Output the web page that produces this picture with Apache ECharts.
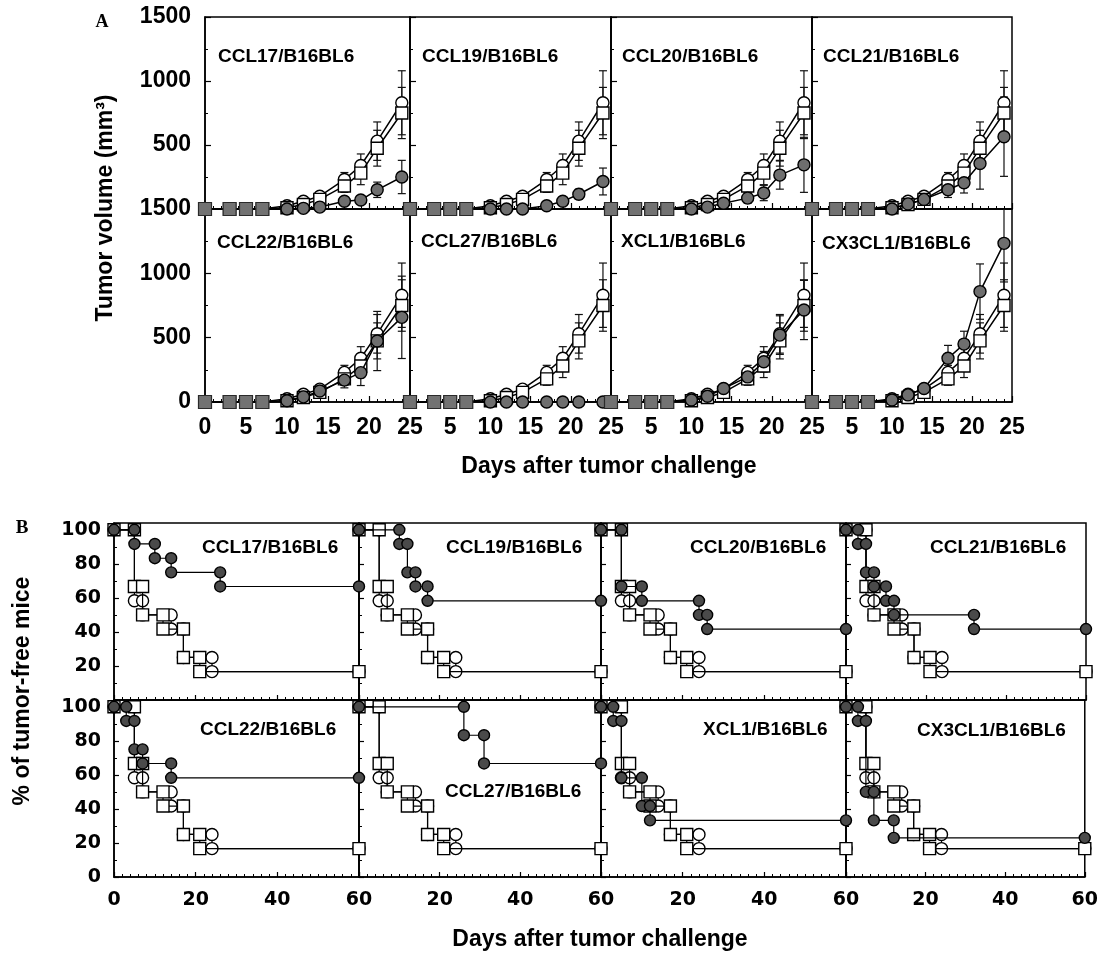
<!DOCTYPE html>
<html><head><meta charset="utf-8">
<script src="https://cdn.jsdelivr.net/npm/echarts@6/dist/echarts.min.js"></script>
<style>html,body{margin:0;padding:0;background:#fff}#c{width:1101px;height:953px}</style>
</head><body><div id="c"></div><script>
// ---------- DATA ----------
const panelNames = ['CCL17/B16BL6','CCL19/B16BL6','CCL20/B16BL6','CCL21/B16BL6','CCL22/B16BL6','CCL27/B16BL6','XCL1/B16BL6','CX3CL1/B16BL6'];

// Panel A: tumor volume (mm3)
const tvXTicks = [0,5,10,15,20,25];
const tvYTicks = [0,500,1000,1500];
const tvDays = [0,3,5,7,10,12,14,17,19,21,24];
const tvGrayDays = [0,3,5,7];
const tvGrayVals = [0,0,0,0];
const tvOpenCircle    = [0,0,0,0,25,60,100,230,340,530,830];
const tvOpenCircleErr = [0,0,0,0,10,15,20,55,90,150,250];
const tvOpenSquare    = [0,0,0,0,10,35,75,180,280,475,750];
const tvOpenSquareErr = [0,0,0,0,8,12,18,50,90,140,200];
const tvCCL17  = [0,0,0,0,0,5,15,60,70,150,250];
const tvCCL17Err  = [0,0,0,0,0,5,10,20,30,60,130];
const tvCCL19  = [0,0,0,0,0,0,0,25,60,115,215];
const tvCCL19Err  = [0,0,0,0,0,0,0,10,20,40,105];
const tvCCL20  = [0,0,0,0,0,15,45,85,125,265,345];
const tvCCL20Err  = [0,0,0,0,0,10,20,40,60,110,215];
const tvCCL21  = [0,0,0,0,0,40,75,150,205,355,565];
const tvCCL21Err  = [0,0,0,0,0,15,30,60,80,200,310];
const tvCCL22  = [0,0,0,0,10,40,85,170,228,474,658];
const tvCCL22Err  = [0,0,0,0,5,10,20,60,100,230,320];
const tvCCL27  = [0,0,0,0,0,0,0,0,0,0,0];
const tvCCL27Err  = [0,0,0,0,0,0,0,0,0,0,0];
const tvXCL1   = [0,0,0,0,15,45,105,195,313,520,715];
const tvXCL1Err   = [0,0,0,0,5,15,25,50,80,150,230];
const tvCX3CL1 = [0,0,0,0,15,55,105,340,450,858,1233];
const tvCX3CL1Err = [0,0,0,0,5,15,30,100,100,215,300];

// Panel B: % tumor-free mice  [day, %]
const kmXTicks = [0,20,40,60];
const kmYTicks = [0,20,40,60,80,100];
const kmOpenSquare = [[0,100],[5,100],[5,66.7],[7,66.7],[7,50],[12,50],[12,41.7],[17,41.7],[17,25],[21,25],[21,16.7],[60,16.7]];
const kmOpenCircle = [[0,100],[5,100],[5,58.3],[7,58.3],[7,50],[14,50],[14,41.7],[17,41.7],[17,25],[24,25],[24,16.7],[60,16.7]];
const kmCCL17  = [[0,100],[5,100],[5,91.7],[10,91.7],[10,83.3],[14,83.3],[14,75],[26,75],[26,66.7],[60,66.7]];
const kmCCL19  = [[0,100],[10,100],[10,91.7],[12,91.7],[12,75],[14,75],[14,66.7],[17,66.7],[17,58.3],[60,58.3]];
const kmCCL20  = [[0,100],[5,100],[5,66.7],[10,66.7],[10,58.3],[24,58.3],[24,50],[26,50],[26,41.7],[60,41.7]];
const kmCCL21  = [[0,100],[3,100],[3,91.7],[5,91.7],[5,75],[7,75],[7,66.7],[10,66.7],[10,58.3],[12,58.3],[12,50],[32,50],[32,41.7],[60,41.7]];
const kmCCL22  = [[0,100],[3,100],[3,91.7],[5,91.7],[5,75],[7,75],[7,66.7],[14,66.7],[14,58.3],[60,58.3]];
const kmCCL27  = [[0,100],[26,100],[26,83.3],[31,83.3],[31,66.7],[60,66.7]];
const kmXCL1   = [[0,100],[3,100],[3,91.7],[5,91.7],[5,58.3],[10,58.3],[10,41.7],[12,41.7],[12,33.3],[60,33.3]];
const kmCX3CL1 = [[0,100],[3,100],[3,91.7],[5,91.7],[5,50],[7,50],[7,33.3],[12,33.3],[12,23],[60,23]];

// ---------- BUILD ----------
const tvPanels = [tvCCL17,tvCCL19,tvCCL20,tvCCL21,tvCCL22,tvCCL27,tvXCL1,tvCX3CL1];
const tvPanelErrs = [tvCCL17Err,tvCCL19Err,tvCCL20Err,tvCCL21Err,tvCCL22Err,tvCCL27Err,tvXCL1Err,tvCX3CL1Err];
const kmPanels = [kmCCL17,kmCCL19,kmCCL20,kmCCL21,kmCCL22,kmCCL27,kmXCL1,kmCX3CL1];

const FONT = '"Liberation Sans", Arial, Helvetica, sans-serif';
const FONTB = '"DejaVu Sans", Verdana, sans-serif';
const grids=[], xAxes=[], yAxes=[], series=[], graphic=[];

function errSeries(gi, days, vals, errs){
  return {type:'custom', xAxisIndex:gi, yAxisIndex:gi, z:1, silent:true, clip:true,
    dimensions:['x','y','e'], encode:{x:0,y:1},
    data: days.map((d,i)=>[d, vals[i], errs[i]]),
    renderItem(params, api){
      const x=api.value(0), v=api.value(1), e=api.value(2);
      if(!e) return null;
      const t=api.coord([x,v+e]), b=api.coord([x,Math.max(0,v-e)]);
      const hw=4, st={stroke:'#111', lineWidth:1.2};
      return {type:'group', children:[
        {type:'line', shape:{x1:t[0],y1:t[1],x2:b[0],y2:b[1]}, style:st},
        {type:'line', shape:{x1:t[0]-hw,y1:t[1],x2:t[0]+hw,y2:t[1]}, style:st},
        {type:'line', shape:{x1:b[0]-hw,y1:b[1],x2:b[0]+hw,y2:b[1]}, style:st}
      ]};
    }};
}
function lineSeries(gi, data, symbol, fill, z, size, lw){
  return {type:'line', xAxisIndex:gi, yAxisIndex:gi, z, data, symbol, symbolSize:size,
    showAllSymbol:true, silent:true, clip:true,
    lineStyle:{color:'#000', width:lw},
    itemStyle:{color:fill, borderColor:'#000', borderWidth:1.4, opacity:1}};
}
function axisCommon(){
  return {axisLine:{show:true, onZero:false, lineStyle:{color:'#000', width:1.5}},
    splitLine:{show:false}, minorSplitLine:{show:false}};
}

// Panel A
const colLeftA=[205,410,611,812], colWA=[205,201,201,200], rowTopA=[17,209], rowHA=[192,193];
const titlePosA=[[218,57],[422,57],[622,57],[823,57],[217,243],[421,242],[621,242],[822,244]];
for(let k=0;k<8;k++){
  const r=Math.floor(k/4), c=k%4, gi=grids.length;
  grids.push({left:colLeftA[c], top:rowTopA[r], width:colWA[c], height:rowHA[r], show:true,
    borderColor:'#000', borderWidth:1.5, backgroundColor:'transparent', containLabel:false});
  xAxes.push(Object.assign(axisCommon(), {gridIndex:gi, type:'value', min:tvXTicks[0], max:tvXTicks[tvXTicks.length-1], interval:5,
    axisTick:{show:true, inside:true, length:6, lineStyle:{color:'#000', width:1.2}},
    minorTick:{show:true, splitNumber:5, length:3, lineStyle:{color:'#000', width:1}},
    axisLabel:{show:r===1, margin:14, color:'#000', fontFamily:FONT, fontWeight:'bold', fontSize:23,
      formatter:v=>((c>0&&v===0)||tvXTicks.indexOf(v)<0)?'':String(v)}}));
  yAxes.push(Object.assign(axisCommon(), {gridIndex:gi, type:'value', min:tvYTicks[0], max:tvYTicks[tvYTicks.length-1], interval:500,
    axisTick:{show:true, inside:true, length:6, lineStyle:{color:'#000', width:1.2}},
    minorTick:{show:true, splitNumber:2, length:3, lineStyle:{color:'#000', width:1}},
    axisLabel:{show:c===0, margin:14, color:'#000', fontFamily:FONT, fontWeight:'bold', fontSize:23,
      formatter:v=>((r===0&&v===0)||tvYTicks.indexOf(v)<0)?'':String(v)}}));
  const zip=(vals)=>tvDays.map((d,i)=>[d,vals[i]]);
  series.push(errSeries(gi, tvDays, tvOpenCircle, tvOpenCircleErr));
  series.push(errSeries(gi, tvDays, tvOpenSquare, tvOpenSquareErr));
  series.push(errSeries(gi, tvDays, tvPanels[k], tvPanelErrs[k]));
  series.push(lineSeries(gi, zip(tvOpenCircle), 'circle', '#fff', 2, 12, 1.5));
  series.push(lineSeries(gi, zip(tvOpenSquare), 'rect', '#fff', 3, 12, 1.5));
  series.push(lineSeries(gi, zip(tvPanels[k]), 'circle', '#6e6e6e', 4, 12, 1.5));
  series.push({type:'scatter', xAxisIndex:gi, yAxisIndex:gi, z:5, silent:true, symbol:'rect', symbolSize:13,
    data: tvGrayDays.map((d,i)=>[d,tvGrayVals[i]]),
    itemStyle:{color:'#727272', borderColor:'#2a2a2a', borderWidth:1.2, opacity:1}});
  graphic.push({type:'text', x:titlePosA[k][0], y:titlePosA[k][1], z:100,
    style:{text:panelNames[k], textAlign:'left', textVerticalAlign:'middle', font:'bold 19px '+FONT, fill:'#000'}});
}

// Panel B
const colLeftB=[114,359,601,846], colWB=[245,242,245,240], rowTopB=[523,700], rowHB=[177,177];
const titlePosB=[[202,548],[446,548],[690,548],[930,548],[200,730],[445,792],[703,730],[917,731]];
for(let k=0;k<8;k++){
  const r=Math.floor(k/4), c=k%4, gi=grids.length;
  grids.push({left:colLeftB[c], top:rowTopB[r], width:colWB[c], height:rowHB[r], show:true,
    borderColor:'#000', borderWidth:1.5, backgroundColor:'transparent', containLabel:false});
  xAxes.push(Object.assign(axisCommon(), {gridIndex:gi, type:'value', min:kmXTicks[0], max:kmXTicks[kmXTicks.length-1], interval:20,
    axisTick:{show:true, inside:true, length:5, lineStyle:{color:'#000', width:1.2}},
    minorTick:{show:true, splitNumber:10, length:3, lineStyle:{color:'#000', width:1}},
    axisLabel:{show:r===1, margin:14, color:'#000', fontFamily:FONTB, fontWeight:'bold', fontSize:19,
      formatter:v=>((c>0&&v===0)||kmXTicks.indexOf(v)<0)?'':String(v)}}));
  yAxes.push(Object.assign(axisCommon(), {gridIndex:gi, type:'value', min:0, max:104, interval:20,
    axisTick:{show:true, inside:true, length:5, lineStyle:{color:'#000', width:1.2}},
    minorTick:{show:true, splitNumber:2, length:3, lineStyle:{color:'#000', width:1}},
    axisLabel:{show:c===0, margin:13, color:'#000', fontFamily:FONTB, fontWeight:'bold', fontSize:19,
      formatter:v=>((r===0&&v===0)||kmYTicks.indexOf(v)<0)?'':String(v)}}));
  series.push(lineSeries(gi, kmOpenCircle, 'circle', '#fff', 2, 12, 1.2));
  series.push(lineSeries(gi, kmOpenSquare, 'rect', '#fff', 3, 12, 1.2));
  series.push(lineSeries(gi, kmPanels[k], 'circle', '#4a4a4a', 4, 11, 1.2));
  graphic.push({type:'text', x:titlePosB[k][0], y:titlePosB[k][1], z:100,
    style:{text:panelNames[k], textAlign:'left', textVerticalAlign:'middle', font:'bold 19px '+FONT, fill:'#000'}});
}

// Labels
graphic.push({type:'text', x:102, y:22, style:{text:'A', textAlign:'center', textVerticalAlign:'middle', font:'bold 18px "Liberation Serif", "Times New Roman", serif', fill:'#000'}});
graphic.push({type:'text', x:22, y:528, style:{text:'B', textAlign:'center', textVerticalAlign:'middle', font:'bold 19px "Liberation Serif", "Times New Roman", serif', fill:'#000'}});
graphic.push({type:'text', x:106, y:208, rotation:Math.PI/2, style:{text:'Tumor volume (mm³)', textAlign:'center', textVerticalAlign:'middle', font:'bold 23px '+FONT, fill:'#000'}});
graphic.push({type:'text', x:609, y:467, style:{text:'Days after tumor challenge', textAlign:'center', textVerticalAlign:'middle', font:'bold 23px '+FONT, fill:'#000'}});
graphic.push({type:'text', x:23, y:691, rotation:Math.PI/2, style:{text:'% of tumor-free mice', textAlign:'center', textVerticalAlign:'middle', font:'bold 23px '+FONT, fill:'#000'}});
graphic.push({type:'text', x:600, y:940, style:{text:'Days after tumor challenge', textAlign:'center', textVerticalAlign:'middle', font:'bold 23px '+FONT, fill:'#000'}});

const chart = echarts.init(document.getElementById('c'), null, {renderer:'canvas'});
chart.setOption({animation:false, backgroundColor:'#fff', grid:grids, xAxis:xAxes, yAxis:yAxes, series, graphic});
</script></body></html>
